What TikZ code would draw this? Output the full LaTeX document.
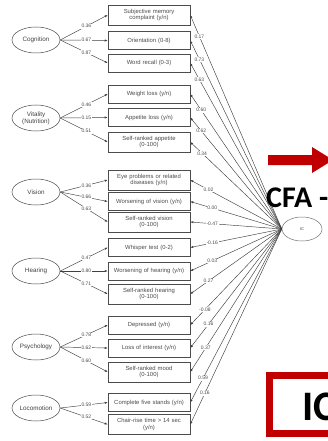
\documentclass[tikz,border=0pt]{standalone}
\usepackage{fontspec}
\setmainfont{Liberation Sans}
\newfontfamily\calfont{Carlito}
\usetikzlibrary{arrows.meta,shapes.geometric}
\definecolor{slidered}{HTML}{C00000}
\begin{document}
\begin{tikzpicture}[x=1pt,y=-1pt,
  ind/.style={draw=black!70, line width=0.5pt, minimum width=82pt, text width=79pt, align=center,
     inner sep=1.2pt, font=\fontsize{5.9}{6.8}\selectfont, text=black!70},
  boxone/.style={ind, minimum height=18pt},
  boxtwo/.style={ind, minimum height=20pt},
  lat/.style={ellipse, draw=black!70, line width=0.5pt, minimum width=48pt, minimum height=26pt,
     inner sep=0pt, align=center, font=\fontsize{6.3}{7}\selectfont, text=black!75},
  load/.style={fill=white, inner sep=0.6pt, font=\fontsize{5}{5}\selectfont, text=black!70},
  conn/.style={draw=black!75, line width=0.45pt, -{Latex[length=3pt,width=2.2pt]}}]
\clip (0,0) rectangle (328,441);
\fill[white] (0,0) rectangle (328,441);

% indicator boxes
\node[boxtwo] (b1)  at (149,15)    {Subjective memory\\complaint (y/n)};
\node[boxone] (b2)  at (149,40.5)  {Orientation (0-8)};
\node[boxone] (b3)  at (149,63)    {Word recall (0-3)};
\node[boxone] (b4)  at (149,94)    {Weight loss (y/n)};
\node[boxone] (b5)  at (149,117.5) {Appetite loss (y/n)};
\node[boxtwo] (b6)  at (149,142)   {Self-ranked appetite\\(0-100)};
\node[boxtwo] (b7)  at (149,180)   {Eye problems or related\\diseases (y/n)};
\node[boxone] (b8)  at (149,201.5) {Worsening of vision (y/n)};
\node[boxtwo] (b9)  at (149,222)   {Self-ranked vision\\(0-100)};
\node[boxone] (b10) at (149,247.5) {Whisper test (0-2)};
\node[boxone] (b11) at (149,271)   {Worsening of hearing (y/n)};
\node[boxtwo] (b12) at (149,294)   {Self-ranked hearing\\(0-100)};
\node[boxone] (b13) at (149,325)   {Depressed (y/n)};
\node[boxone] (b14) at (149,348)   {Loss of interest (y/n)};
\node[boxtwo] (b15) at (149,372)   {Self-ranked mood\\(0-100)};
\node[boxone] (b16) at (149,402.5) {Complete five stands (y/n)};
\node[boxtwo] (b17) at (149,424.5) {Chair-rise time > 14 sec\\(y/n)};

% latent factors
\node[lat] (cog) at (36,40)  {Cognition};
\node[lat] (vit) at (36,118) {Vitality\\(Nutrition)};
\node[lat] (vis) at (36,192) {Vision};
\node[lat] (hea) at (36,271) {Hearing};
\node[lat] (psy) at (36,347) {Psychology};
\node[lat] (loc) at (36,408) {Locomotion};
\node[lat, minimum width=40pt, minimum height=24pt, draw=black!55, font=\fontsize{4}{4}\selectfont] (ic) at (302,229) {IC};

% loadings of factors
\draw[conn] (cog.east) -- node[load,pos=0.55]{0.36} (b1.west);
\draw[conn] (cog.east) -- node[load,pos=0.55]{0.67} (b2.west);
\draw[conn] (cog.east) -- node[load,pos=0.55]{0.87} (b3.west);
\draw[conn] (vit.east) -- node[load,pos=0.55]{0.46} (b4.west);
\draw[conn] (vit.east) -- node[load,pos=0.55]{0.15} (b5.west);
\draw[conn] (vit.east) -- node[load,pos=0.55]{0.51} (b6.west);
\draw[conn] (vis.east) -- node[load,pos=0.55]{0.36} (b7.west);
\draw[conn] (vis.east) -- node[load,pos=0.55]{0.66} (b8.west);
\draw[conn] (vis.east) -- node[load,pos=0.55]{0.63} (b9.west);
\draw[conn] (hea.east) -- node[load,pos=0.55]{0.47} (b10.west);
\draw[conn] (hea.east) -- node[load,pos=0.55]{0.80} (b11.west);
\draw[conn] (hea.east) -- node[load,pos=0.55]{0.71} (b12.west);
\draw[conn] (psy.east) -- node[load,pos=0.55]{0.78} (b13.west);
\draw[conn] (psy.east) -- node[load,pos=0.55]{0.62} (b14.west);
\draw[conn] (psy.east) -- node[load,pos=0.55]{0.60} (b15.west);
\draw[conn] (loc.east) -- node[load,pos=0.55]{0.59} (b16.west);
\draw[conn] (loc.east) -- node[load,pos=0.55]{0.52} (b17.west);

% loadings of IC
\draw[conn] (ic.west) -- node[load,pos=0.9]{0.17} (b1.east);
\draw[conn] (ic.west) -- node[load,pos=0.9]{0.73} (b2.east);
\draw[conn] (ic.west) -- node[load,pos=0.9]{0.63} (b3.east);
\draw[conn] (ic.west) -- node[load,pos=0.88]{0.60} (b4.east);
\draw[conn] (ic.west) -- node[load,pos=0.88]{0.62} (b5.east);
\draw[conn] (ic.west) -- node[load,pos=0.87]{0.34} (b6.east);
\draw[conn] (ic.west) -- node[load,pos=0.8]{0.02} (b7.east);
\draw[conn] (ic.west) -- node[load,pos=0.76]{0.00} (b8.east);
\draw[conn] (ic.west) -- node[load,pos=0.76]{-0.47} (b9.east);
\draw[conn] (ic.west) -- node[load,pos=0.76]{-0.16} (b10.east);
\draw[conn] (ic.west) -- node[load,pos=0.76]{0.03} (b11.east);
\draw[conn] (ic.west) -- node[load,pos=0.8]{0.27} (b12.east);
\draw[conn] (ic.west) -- node[load,pos=0.84]{-0.08} (b13.east);
\draw[conn] (ic.west) -- node[load,pos=0.8]{0.16} (b14.east);
\draw[conn] (ic.west) -- node[load,pos=0.83]{0.37} (b15.east);
\draw[conn] (ic.west) -- node[load,pos=0.86]{0.59} (b16.east);
\draw[conn] (ic.west) -- node[load,pos=0.84]{0.16} (b17.east);

% slide elements
\fill[slidered] (268,155) -- (312,155) -- (312,147) -- (333,160) -- (312,173) -- (312,165) -- (268,165) -- cycle;
\node[anchor=base west, inner sep=0pt, font=\calfont\bfseries\fontsize{30}{30}\selectfont] (cfa) at (266,207) {CFA -};
\draw[slidered, line width=7pt] (269.5,375.5) rectangle (345,433.5);
\node[anchor=base west, inner sep=0pt, font=\calfont\bfseries\fontsize{42}{42}\selectfont] (ictitle) at (302,420) {IC};
\end{tikzpicture}
\end{document}
